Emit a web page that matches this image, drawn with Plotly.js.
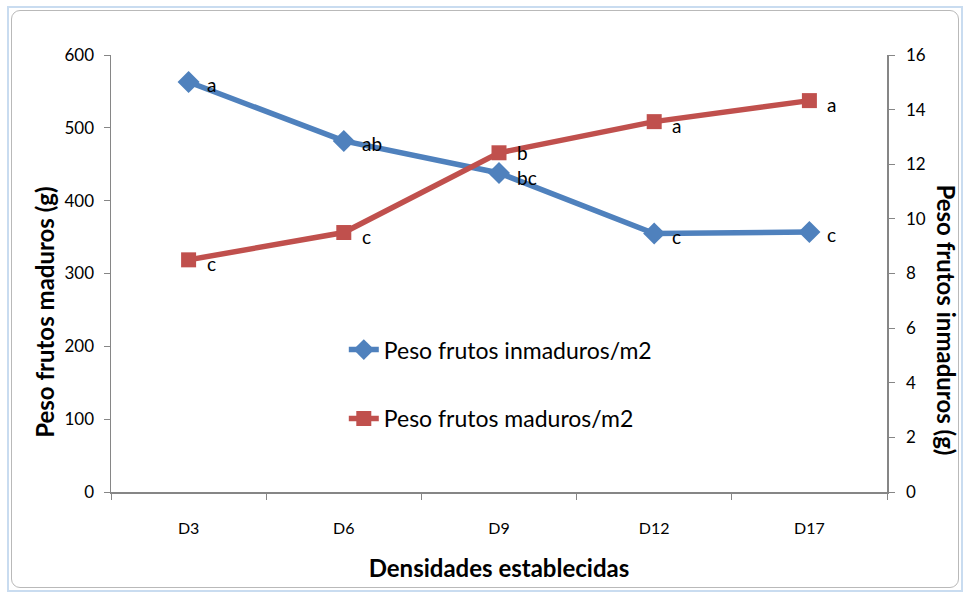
<!DOCTYPE html>
<html>
<head>
<meta charset="utf-8">
<script src="https://cdn.plot.ly/plotly-3.0.1.min.js"></script>
<style>
  html, body { margin: 0; padding: 0; background: #ffffff; }
  #wrap { position: relative; width: 966px; height: 599px; overflow: hidden; }
  #chart { position: absolute; left: 0; top: 0; width: 966px; height: 599px; }
  #frame {
    position: absolute; left: 7px; top: 6px; width: 956px; height: 586px;
    border: 2px solid #c9dcf0; box-sizing: border-box; pointer-events: none;
  }
  #frame .inner {
    position: absolute; left: 2px; top: 2px; right: 2px; bottom: 2px;
    border: 1px solid #b9b9b9; border-radius: 9px; box-sizing: border-box;
  }
</style>
</head>
<body>
<div id="wrap">
  <div id="chart"></div>
  <div id="frame"><div class="inner"></div></div>
</div>
<script>
// Planting densities
const categories = ['D3', 'D6', 'D9', 'D12', 'D17'];

// Weight of unripe fruit per m2 (left axis, g)
const inmaduros = [563, 482, 438, 355, 357];
const inmadurosLetras = ['a', 'ab', 'bc', 'c', 'c'];

// Weight of ripe fruit per m2 (right axis, g)
const maduros = [8.5, 9.5, 12.42, 13.56, 14.33];
const madurosLetras = ['c', 'c', 'b', 'a', 'a'];

const leftTicks = [0, 100, 200, 300, 400, 500, 600];
const rightTicks = [0, 2, 4, 6, 8, 10, 12, 14, 16];

const FONT = 'Lato, "Open Sans", "DejaVu Sans", sans-serif';
const BLUE = '#4f81bd';
const RED = '#c0504d';
const AXIS = '#868686';

const traces = [
  {
    x: categories, y: inmaduros, yaxis: 'y',
    name: 'Peso frutos inmaduros/m2', legendgroup: 'g1',
    mode: 'lines+markers',
    line: { color: BLUE, width: 5.5 },
    marker: { symbol: 'diamond', size: 17, color: BLUE }
  },
  {
    x: categories, y: maduros, yaxis: 'y2',
    name: 'Peso frutos maduros/m2', legendgroup: 'g2',
    mode: 'lines+markers',
    line: { color: RED, width: 5.5 },
    marker: { symbol: 'square', size: 15, color: RED }
  }
];

// Significance letters beside each point
const annotations = [];
categories.forEach((c, i) => {
  annotations.push({
    x: c, y: inmaduros[i], xref: 'x', yref: 'y',
    text: inmadurosLetras[i], showarrow: false,
    xanchor: 'left', yanchor: 'middle', xshift: 16, yshift: (i === 2 ? -5 : -3),
    font: { family: FONT, size: 19, color: '#000' }
  });
  annotations.push({
    x: c, y: maduros[i], xref: 'x', yref: 'y2',
    text: madurosLetras[i], showarrow: false,
    xanchor: 'left', yanchor: 'middle', xshift: 16, yshift: (i === 2 ? 0 : -4),
    font: { family: FONT, size: 19, color: '#000' }
  });
});

// Axis titles on both sides
annotations.push({
  xref: 'paper', yref: 'paper', x: 0, y: 0.41,
  xanchor: 'center', yanchor: 'middle', xshift: -66,
  text: '<b>Peso frutos maduros (g)</b>', textangle: -90, showarrow: false,
  font: { family: FONT, size: 24, color: '#000' }
});
annotations.push({
  xref: 'paper', yref: 'paper', x: 1, y: 0.395,
  xanchor: 'center', yanchor: 'middle', xshift: 60,
  text: '<b>Peso frutos inmaduros (g)</b>', textangle: 90, showarrow: false,
  font: { family: FONT, size: 24, color: '#000' }
});

const layout = {
  width: 966, height: 599,
  margin: { l: 111, r: 79, t: 55, b: 107 },
  paper_bgcolor: '#ffffff', plot_bgcolor: '#ffffff',
  font: { family: FONT, color: '#000' },
  showlegend: true,
  legend: {
    x: 0.3, y: 0.375, xanchor: 'left', yanchor: 'top',
    bgcolor: 'rgba(0,0,0,0)', tracegroupgap: 36,
    font: { family: FONT, size: 23, color: '#000' }
  },
  xaxis: {
    type: 'category', range: [-0.5, 4.5],
    showline: true, linecolor: AXIS, linewidth: 1.5,
    ticks: 'outside', tickson: 'boundaries', ticklen: 6, tickcolor: AXIS,
    showgrid: false, zeroline: false,
    ticklabelstandoff: 21,
    tickfont: { family: FONT, size: 16, color: '#000' },
    title: { text: '<b>Densidades establecidas</b>', standoff: 24,
             font: { family: FONT, size: 24, color: '#000' } }
  },
  yaxis: {
    range: [0, 600], tickvals: leftTicks,
    showline: true, linecolor: AXIS, linewidth: 1.5,
    ticks: 'outside', ticklen: 6, tickcolor: AXIS,
    showgrid: false, zeroline: false,
    ticklabelstandoff: 6,
    tickfont: { family: FONT, size: 17, color: '#000' }
  },
  yaxis2: {
    range: [0, 16], tickvals: rightTicks,
    overlaying: 'y', side: 'right', anchor: 'x',
    showline: true, linecolor: AXIS, linewidth: 1.5,
    ticks: 'outside', ticklen: 6, tickcolor: AXIS,
    showgrid: false, zeroline: false,
    ticklabelstandoff: 8,
    tickfont: { family: FONT, size: 17, color: '#000' }
  },
  annotations: annotations
};

Plotly.newPlot('chart', traces, layout, { displayModeBar: false, staticPlot: true });
</script>
</body>
</html>
